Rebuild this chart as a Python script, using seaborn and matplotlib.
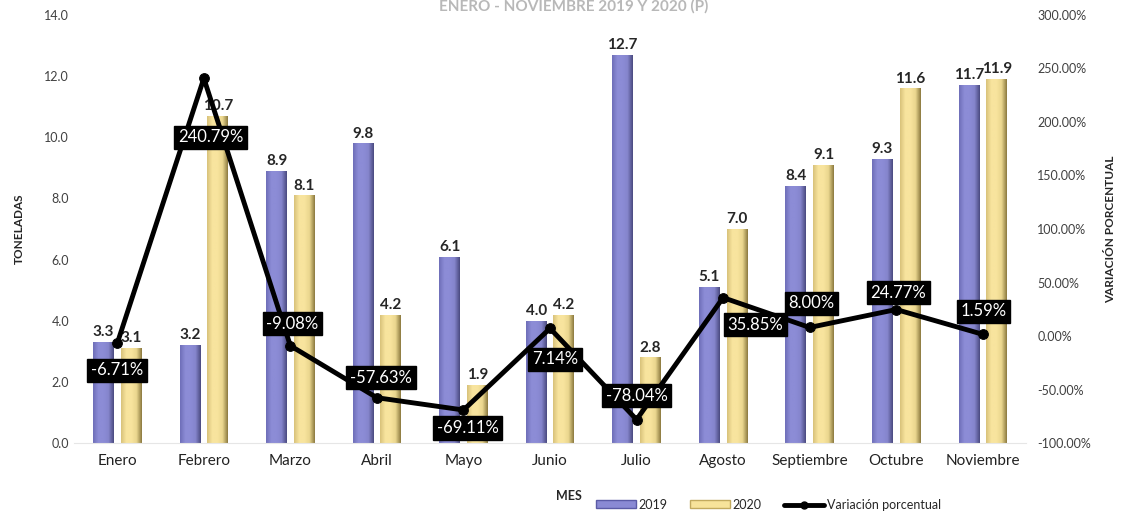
import matplotlib.pyplot as plt
import matplotlib.patches as mpatches
import matplotlib.lines as mlines
from matplotlib.colors import LinearSegmentedColormap
import numpy as np
import pandas as pd
import seaborn as sns

meses = ['Enero', 'Febrero', 'Marzo', 'Abril', 'Mayo', 'Junio', 'Julio',
         'Agosto', 'Septiembre', 'Octubre', 'Noviembre']
t2019 = [3.3, 3.2, 8.9, 9.8, 6.1, 4.0, 12.7, 5.1, 8.4, 9.3, 11.7]
t2020 = [3.1, 10.7, 8.1, 4.2, 1.9, 4.2, 2.8, 7.0, 9.1, 11.6, 11.9]
variacion = [-6.71, 240.79, -9.08, -57.63, -69.11, 7.14, -78.04, 35.85, 8.00, 24.77, 1.59]

# label offsets (pixels) for the percentage boxes
offsets = [(0, -27), (7, -59), (2, 22), (4, 20), (4, -18), (5, -31),
           (0, 24), (32, -27), (2, 24), (2, 17), (1, 23)]

sns.set_style('white')
plt.rcParams['font.family'] = ['Lato', 'DejaVu Sans']

df = pd.DataFrame({
    'MES': meses * 2,
    'Toneladas': t2019 + t2020,
    'Año': ['2019'] * len(meses) + ['2020'] * len(meses),
})

c2019 = '#8A8AD4'
c2020 = '#F7E39A'
# bevel-ish shading across each bar, left -> right
cmaps = [
    LinearSegmentedColormap.from_list('b19', ['#6E6EB8', '#8C8CD6', '#8C8CD6', '#8585CC', '#4A4A80']),
    LinearSegmentedColormap.from_list('b20', ['#D8C27A', '#F8E49E', '#F8E49E', '#EAD68E', '#8C7A40']),
]

fig = plt.figure(figsize=(11.3, 5.14), dpi=100)
ax = fig.add_axes([0.0655, 0.138, 0.8425, 0.833])

sns.barplot(data=df, x='MES', y='Toneladas', hue='Año', ax=ax,
            palette=[c2019, c2020], width=0.64, gap=0.25, legend=False)
grad = np.linspace(0, 1, 64).reshape(1, -1)
for cont, cm in zip(ax.containers, cmaps):
    for bar in cont:
        bar.set_linewidth(0)
        x0, w, h = bar.get_x(), bar.get_width(), bar.get_height()
        im = ax.imshow(grad, extent=[x0, x0 + w, 0, h], cmap=cm, aspect='auto',
                       zorder=bar.get_zorder() + 0.1, interpolation='bilinear')
        im.set_clip_path(bar)
    ax.bar_label(cont, fmt='%.1f', padding=2, fontsize=11, fontweight='bold')

ax.set_aspect('auto')
ax.set_ylim(0, 14)
ax.set_yticks(np.arange(0, 14.1, 2))
ax.set_yticklabels([f'{v:.1f}' for v in np.arange(0, 14.1, 2)], fontsize=9, color='#404040')
ax.set_xlim(-0.5, len(meses) - 0.5)
ax.tick_params(axis='x', labelsize=11, colors='#222222', length=0, pad=8)
ax.tick_params(axis='y', length=0)
ax.set_xlabel('MES', fontsize=9, fontweight='bold')
ax.xaxis.set_label_coords(0.52, -0.11)
ax.set_ylabel('TONELADAS', fontsize=8.5, fontweight='bold', labelpad=14)
for s in ['top', 'right', 'left']:
    ax.spines[s].set_visible(False)
ax.spines['bottom'].set_color('#E6E6E6')

ax2 = ax.twinx()
sns.lineplot(x=np.arange(len(meses)), y=variacion, ax=ax2, color='black',
             linewidth=3.5, marker='o', markersize=7, markeredgecolor='black')
ax2.set_ylim(-100, 300)
ax2.set_yticks(np.arange(-100, 301, 50))
ax2.set_yticklabels([f'{v:.2f}%' for v in np.arange(-100, 301, 50)], fontsize=9, color='#404040')
ax2.tick_params(axis='y', length=0, pad=8)
ax2.set_ylabel('VARIACIÓN PORCENTUAL', fontsize=8.5, fontweight='bold', labelpad=10)
for s in ax2.spines.values():
    s.set_visible(False)

for i, (v, off) in enumerate(zip(variacion, offsets)):
    ax2.annotate(f'{v:.2f}%', (i, v), xytext=off, textcoords='offset pixels',
                 ha='center', va='center', fontsize=12, color='white',
                 bbox=dict(boxstyle='square,pad=0.22', fc='black', ec='black'))

fig.text(0.508, 0.988, 'ENERO - NOVIEMBRE 2019 Y 2020 (P)', ha='center', va='center',
         fontsize=11, fontweight='bold', color='#B8B8B8')

handles = [
    mpatches.Patch(facecolor=c2019, edgecolor='#5B5BA6', label='2019'),
    mpatches.Patch(facecolor=c2020, edgecolor='#C2AA5E', label='2020'),
    mlines.Line2D([], [], color='black', linewidth=3.5, marker='o', markersize=5,
                  label='Variación porcentual'),
]
fig.legend(handles=handles, loc='center', bbox_to_anchor=(0.68, 0.018), ncol=3,
           frameon=False, fontsize=9, handlelength=3.2, handleheight=0.6,
           columnspacing=1.8, handletextpad=0.2)

fig.savefig('out.png', dpi=100)
